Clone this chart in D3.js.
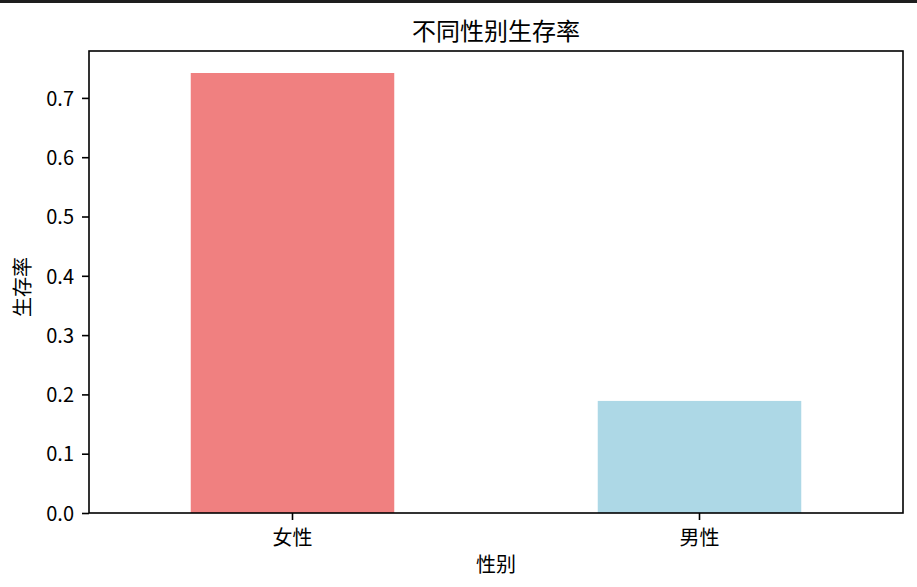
<!DOCTYPE html>
<html lang="zh">
<head>
    <meta charset="UTF-8">
    <title>不同性别生存率</title>
    <script src="https://d3js.org/d3.v7.min.js"></script>
    <style>
        body {
            margin: 0;
            padding: 0;
            background: #fff;
            font-family: "Noto Sans CJK SC", "SimHei", sans-serif;
        }
        svg { display: block; }
        .tick text { fill: #000; }
    </style>
</head>
<body>
    <script>
        // data
        const categories = ["女性", "男性"];
        const survival = [0.742, 0.189];
        const barColors = ["#F08080", "#ADD8E6"];
        const yTicks = [0.0, 0.1, 0.2, 0.3, 0.4, 0.5, 0.6, 0.7];
        const titleText = "不同性别生存率";
        const xLabelText = "性别";
        const yLabelText = "生存率";

        const width = 917, height = 587;
        const margin = { top: 51, right: 14, bottom: 74, left: 89 };
        const innerW = width - margin.left - margin.right;
        const innerH = height - margin.top - margin.bottom;

        const svg = d3.select("body").append("svg")
            .attr("width", width)
            .attr("height", height);

        // dark strip along the top edge of the screenshot
        svg.append("rect")
            .attr("x", 0).attr("y", 0)
            .attr("width", width).attr("height", 3)
            .attr("fill", "#1e1e1e");

        const g = svg.append("g")
            .attr("transform", `translate(${margin.left},${margin.top})`);

        const x = d3.scaleBand()
            .domain(categories)
            .range([0, innerW])
            .paddingInner(0.5)
            .paddingOuter(0.25);

        // matplotlib-style 5% headroom
        const y = d3.scaleLinear()
            .domain([0, d3.max(survival) * 1.05])
            .range([innerH, 0]);

        g.selectAll(".bar")
            .data(categories)
            .enter()
            .append("rect")
            .attr("class", "bar")
            .attr("x", d => x(d))
            .attr("width", x.bandwidth())
            .attr("y", (d, i) => y(survival[i]))
            .attr("height", (d, i) => innerH - y(survival[i]))
            .attr("fill", (d, i) => barColors[i]);

        // y axis
        const yAxis = g.append("g")
            .call(d3.axisLeft(y).tickValues(yTicks).tickFormat(d3.format(".1f")).tickSize(7).tickPadding(8));
        yAxis.select(".domain").remove();
        yAxis.selectAll(".tick line").attr("stroke", "#000").attr("stroke-width", 1.6);
        yAxis.selectAll(".tick text")
            .attr("font-size", 20)
            .attr("font-family", "\"Noto Sans CJK SC\", SimHei, sans-serif")
            .attr("dy", "0.36em");

        // x axis
        const xAxis = g.append("g")
            .attr("transform", `translate(0,${innerH})`)
            .call(d3.axisBottom(x).tickSize(7).tickPadding(8));
        xAxis.select(".domain").remove();
        xAxis.selectAll(".tick line").attr("stroke", "#000").attr("stroke-width", 1.6);
        xAxis.selectAll(".tick text")
            .attr("font-size", 20)
            .attr("font-family", "\"Noto Sans CJK SC\", SimHei, sans-serif")
            .attr("y", 0)
            .attr("dy", 0)
            .attr("transform", "translate(0,32)");

        // frame
        g.append("rect")
            .attr("x", 0).attr("y", 0)
            .attr("width", innerW).attr("height", innerH)
            .attr("fill", "none")
            .attr("stroke", "#000")
            .attr("stroke-width", 1.6);

        // title and axis labels
        svg.append("text")
            .attr("x", margin.left + innerW / 2)
            .attr("y", 40)
            .attr("text-anchor", "middle")
            .attr("font-size", 24)
            .attr("fill", "#000")
            .text(titleText);

        svg.append("text")
            .attr("x", margin.left + innerW / 2)
            .attr("y", 572)
            .attr("text-anchor", "middle")
            .attr("font-size", 20)
            .attr("fill", "#000")
            .text(xLabelText);

        svg.append("text")
            .attr("transform", `translate(30,${margin.top + innerH / 2 + 5}) rotate(-90)`)
            .attr("text-anchor", "middle")
            .attr("font-size", 20)
            .attr("fill", "#000")
            .text(yLabelText);
    </script>
</body>
</html>
